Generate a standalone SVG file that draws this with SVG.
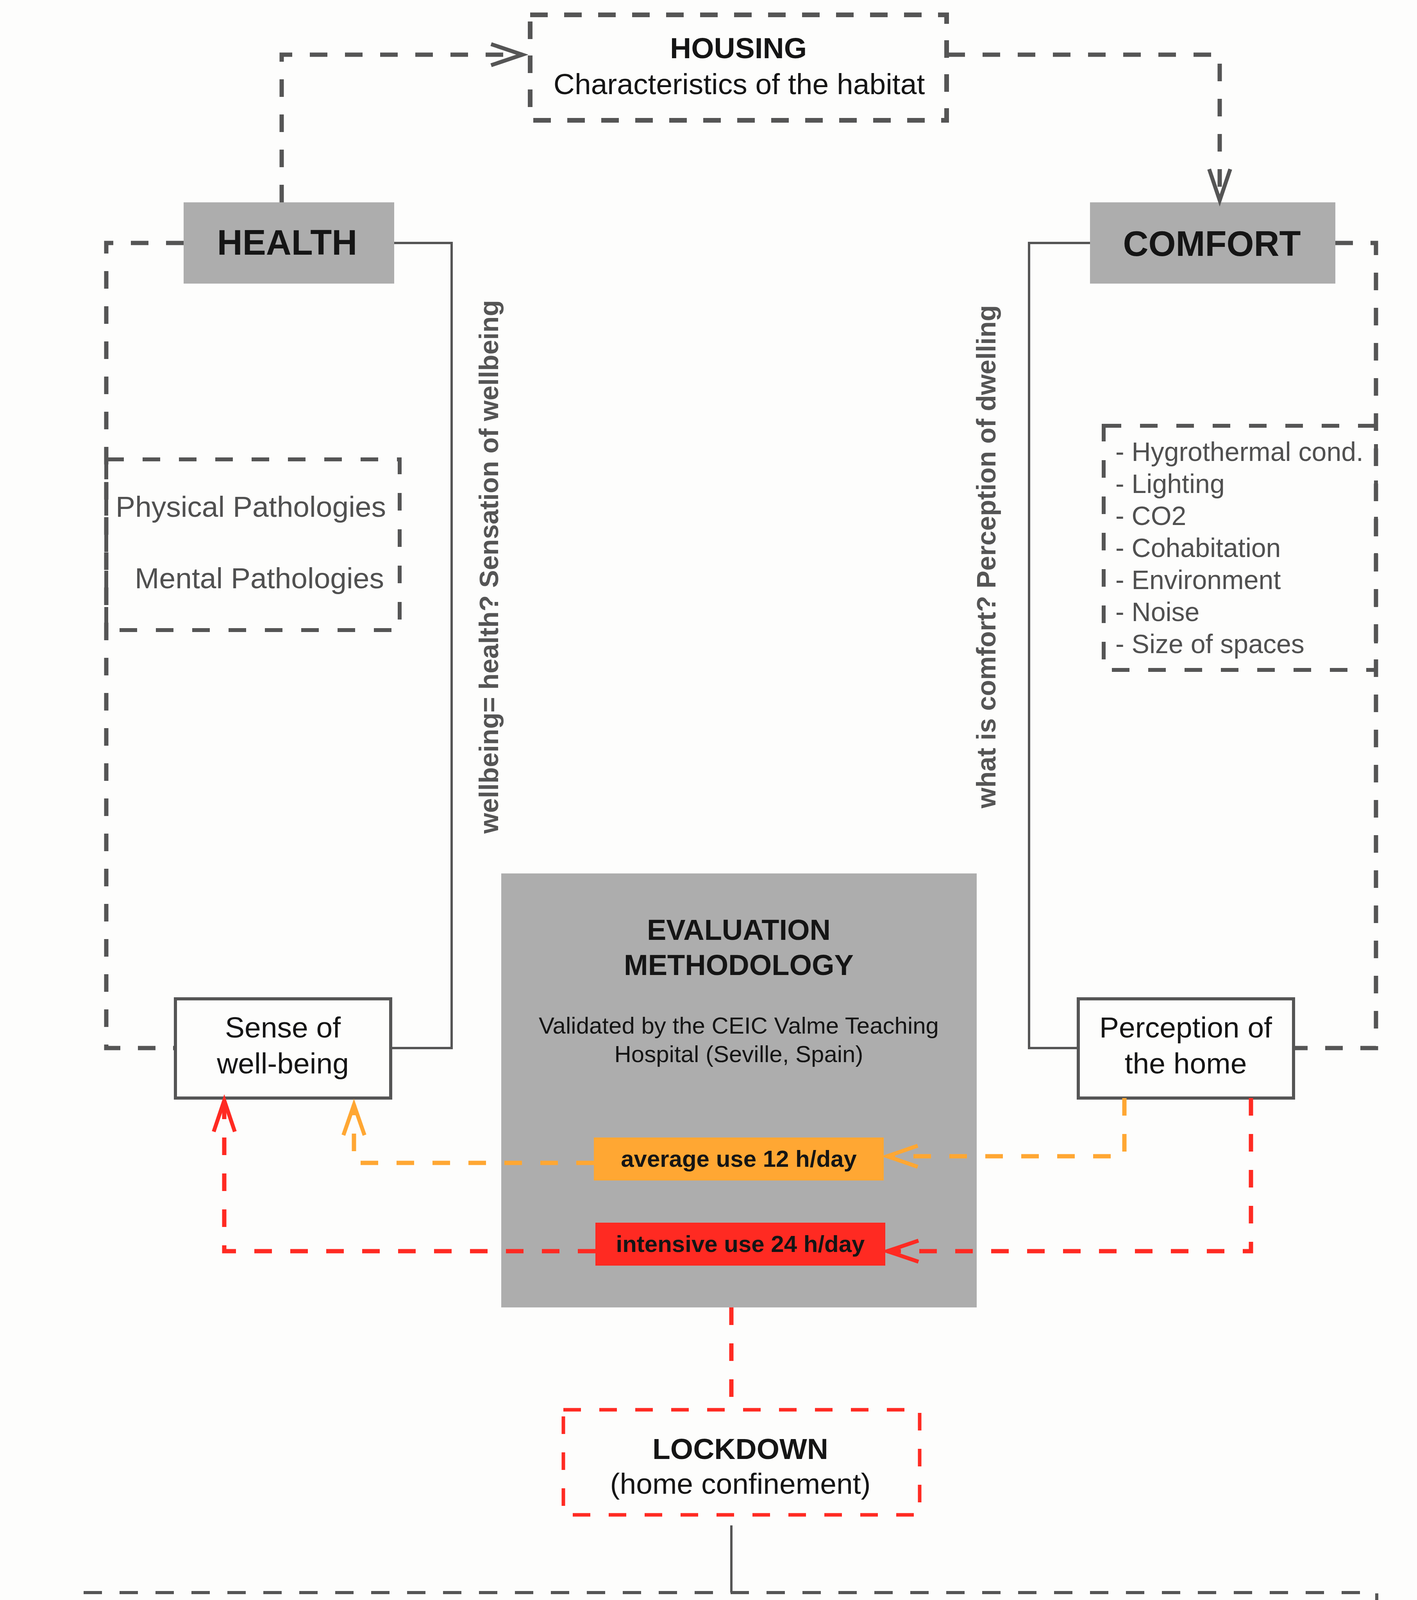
<svg xmlns="http://www.w3.org/2000/svg" width="3627" height="5105" viewBox="0 0 3627 5105">
<style>
  text { font-family: "Liberation Sans", Arial, sans-serif; }
  .b { font-weight: bold; }
  .dk { fill: #151515; }
  .gy { fill: #505050; }
  .mid { text-anchor: middle; }
  .gdash { fill: none; stroke: #555; stroke-width: 11; stroke-dasharray: 45 45; }
  .gsolid { fill: none; stroke: #555; stroke-width: 6; }
  .odash { fill: none; stroke: #ffa733; stroke-width: 11; stroke-dasharray: 45 47; }
  .rdash { fill: none; stroke: #ff2a22; stroke-width: 11; stroke-dasharray: 45 47; }
  .greybox { fill: #adadad; }
  .wbox { fill: #fdfdfc; stroke: #555; stroke-width: 8; }
</style>
<defs>
  <marker id="ag" viewBox="-95 -40 105 80" markerWidth="105" markerHeight="80" refX="0" refY="0" markerUnits="userSpaceOnUse" orient="auto" overflow="visible">
    <path d="M-80,-27 L0,0 L-80,27" fill="none" stroke="#555" stroke-width="10"/>
  </marker>
  <marker id="ao" viewBox="-95 -40 105 80" markerWidth="105" markerHeight="80" refX="0" refY="0" markerUnits="userSpaceOnUse" orient="auto" overflow="visible">
    <path d="M-78,-27 L0,0 L-78,27" fill="none" stroke="#ffa733" stroke-width="10"/>
  </marker>
  <marker id="ar" viewBox="-95 -40 105 80" markerWidth="105" markerHeight="80" refX="0" refY="0" markerUnits="userSpaceOnUse" orient="auto" overflow="visible">
    <path d="M-80,-27 L0,0 L-80,27" fill="none" stroke="#ff2a22" stroke-width="10"/>
  </marker>
</defs>
<rect x="0" y="0" width="3627" height="5105" fill="#fdfdfc"/>

<g id="housing">
  <rect x="1357" y="38" width="1066" height="270" fill="none" stroke="#555" stroke-width="12" stroke-dasharray="45 42"/>
  <text x="1890" y="149" class="b dk mid" font-size="75">HOUSING</text>
  <text x="1892" y="241" class="dk mid" font-size="75">Characteristics of the habitat</text>
</g>

<g id="health">
  <rect x="470" y="518" width="539" height="208" class="greybox"/>
  <text x="735" y="652" class="b dk mid" font-size="90">HEALTH</text>
</g>

<g id="comfort">
  <rect x="2790" y="518" width="628" height="208" class="greybox"/>
  <text x="3102" y="655" class="b dk mid" font-size="90">COMFORT</text>
</g>

<g id="pathologies">
  <rect x="272" y="1176" width="751" height="437" fill="none" stroke="#555" stroke-width="10" stroke-dasharray="45 48"/>
  <text x="642" y="1323" class="gy mid" font-size="75">Physical Pathologies</text>
  <text x="664" y="1506" class="gy mid" font-size="75">Mental Pathologies</text>
</g>

<g id="comfort-factors">
  <rect x="2825" y="1090" width="697" height="625" fill="none" stroke="#555" stroke-width="10" stroke-dasharray="45 48"/>
  <text x="2855" class="gy" font-size="68">
    <tspan x="2855" y="1180">- Hygrothermal cond.</tspan>
    <tspan x="2855" y="1262">- Lighting</tspan>
    <tspan x="2855" y="1344">- CO2</tspan>
    <tspan x="2855" y="1426">- Cohabitation</tspan>
    <tspan x="2855" y="1508">- Environment</tspan>
    <tspan x="2855" y="1590">- Noise</tspan>
    <tspan x="2855" y="1672">- Size of spaces</tspan>
  </text>
</g>

<g id="label-wellbeing">
  <text transform="translate(1275,1451) rotate(-90)" class="b mid" fill="#555" font-size="68">wellbeing= health? Sensation of wellbeing</text>
</g>

<g id="label-comfort">
  <text transform="translate(2548,1425) rotate(-90)" class="b mid" fill="#555" font-size="68">what is comfort? Perception of dwelling</text>
</g>

<g id="evaluation">
  <rect x="1283" y="2236" width="1217" height="1111" class="greybox"/>
  <text x="1891" y="2406" class="b dk mid" font-size="74">EVALUATION</text>
  <text x="1891" y="2496" class="b dk mid" font-size="74">METHODOLOGY</text>
  <text x="1891" y="2646" class="dk mid" font-size="60">Validated by the CEIC Valme Teaching</text>
  <text x="1891" y="2719" class="dk mid" font-size="60">Hospital (Seville, Spain)</text>
</g>

<g id="average-use">
  <rect x="1520" y="2912" width="742" height="110" fill="#ffa733"/>
  <text x="1891" y="2987" class="b dk mid" font-size="60">average use 12 h/day</text>
</g>

<g id="intensive-use">
  <rect x="1524" y="3130" width="742" height="110" fill="#ff2a22"/>
  <text x="1895" y="3205" class="b dk mid" font-size="60">intensive use 24 h/day</text>
</g>

<g id="sense-wellbeing">
  <rect x="449" y="2557" width="551" height="254" class="wbox"/>
  <text x="724" y="2656" class="dk mid" font-size="75">Sense of</text>
  <text x="724" y="2748" class="dk mid" font-size="75">well-being</text>
</g>

<g id="perception-home">
  <rect x="2760" y="2557" width="551" height="254" class="wbox"/>
  <text x="3035" y="2656" class="dk mid" font-size="75">Perception of</text>
  <text x="3035" y="2748" class="dk mid" font-size="75">the home</text>
</g>

<g id="lockdown">
  <rect x="1442" y="3609" width="912" height="269" fill="none" stroke="#ff2a22" stroke-width="9" stroke-dasharray="45 47"/>
  <text x="1895" y="3735" class="b dk mid" font-size="75">LOCKDOWN</text>
  <text x="1895" y="3824" class="dk mid" font-size="75">(home confinement)</text>
</g>

<g id="effects">
  <rect x="214" y="4077" width="3310" height="268" fill="none" stroke="#555" stroke-width="8" stroke-dasharray="47 45"/>
  <text class="dk mid" font-size="75">
    <tspan x="414" y="4192">Loss of</tspan>
    <tspan x="414" y="4283">freedom</tspan>
  </text>
  <text class="dk mid" font-size="75">
    <tspan x="1100" y="4192">Loss of social</tspan>
    <tspan x="1100" y="4283">relations</tspan>
  </text>
  <text class="dk mid" font-size="75">
    <tspan x="1869" y="4192">Change in</tspan>
    <tspan x="1869" y="4283">habits</tspan>
  </text>
  <text class="dk mid" font-size="75">
    <tspan x="2533" y="4192">Reduction of</tspan>
    <tspan x="2533" y="4283">physical activity</tspan>
  </text>
  <text class="dk mid" font-size="75">
    <tspan x="3242" y="4192">Modification of</tspan>
    <tspan x="3242" y="4283">eating habits</tspan>
  </text>
  <g fill="#555">
    <rect x="681" y="4191" width="80" height="21"/><rect x="710" y="4162" width="21" height="78"/>
    <rect x="1435" y="4191" width="80" height="21"/><rect x="1464" y="4162" width="21" height="78"/>
    <rect x="2127" y="4191" width="80" height="21"/><rect x="2156" y="4162" width="21" height="78"/>
    <rect x="2853" y="4191" width="80" height="21"/><rect x="2882" y="4162" width="21" height="78"/>
  </g>
</g>

<g id="object-of-study">
  <text x="1895" y="4675" class="b dk mid" font-size="75">Object of study:</text>
  <text x="1895" y="4764" class="dk mid" font-size="75">Young people</text>
  <text x="1895" y="4857" class="dk mid" font-size="75">Medicine and Architecture students from</text>
  <text x="1895" y="4948" class="dk mid" font-size="75">the University of Seville</text>
</g>

<g id="connectors">
  <path d="M721,518 V140 H1337" class="gdash" marker-end="url(#ag)"/>
  <path d="M2425,140 H3122 V513" class="gdash" marker-end="url(#ag)"/>
  <path d="M470,622 H272 V2683 H449" class="gdash"/>
  <path d="M1009,622 H1156 V2683 H1000" class="gsolid"/>
  <path d="M2790,622 H2634 V2683 H2760" class="gsolid"/>
  <path d="M3418,622 H3522 V2683 H3311" class="gdash"/>
  <path d="M2878,2811 V2960 H2271" class="odash" marker-end="url(#ao)"/>
  <path d="M1520,2977 H906 V2828" class="odash" marker-end="url(#ao)"/>
  <path d="M3202,2811 V3203 H2271" class="rdash" marker-end="url(#ar)"/>
  <path d="M1524,3203 H574 V2817" class="rdash" marker-end="url(#ar)"/>
  <path d="M1872,3347 V3609" class="rdash" stroke-width="9"/>
  <path d="M1872,3905 V4077" class="gsolid" stroke-width="5"/>
  <path d="M1872,4384 V4562" class="gsolid" stroke-width="5"/>
</g>
</svg>
